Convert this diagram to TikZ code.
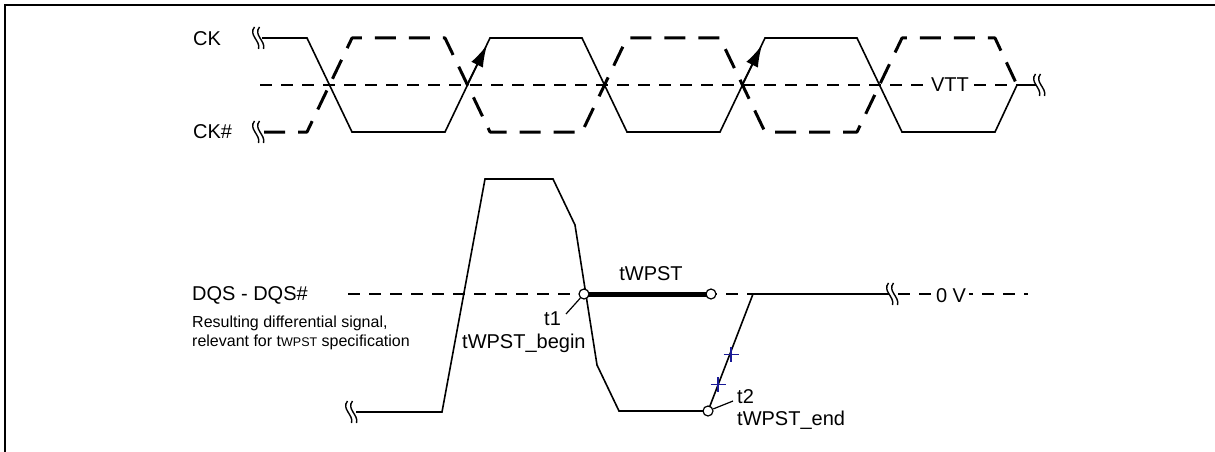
\documentclass[tikz,border=0pt]{standalone}
\usepackage{fontspec}
\setmainfont{Liberation Sans}
\usetikzlibrary{arrows.meta}
\definecolor{xnavy}{RGB}{25,25,150}
\begin{document}
\begin{tikzpicture}[x=1pt,y=-1pt,
  lbl/.style={font=\fontsize{20}{24}\selectfont, inner sep=0pt},
  desc/.style={font=\fontsize{16}{19}\selectfont, inner sep=0pt},
  sig/.style={line width=1.6pt, line join=miter},
  sigb/.style={line width=3pt, dash pattern=on 21pt off 13pt, line join=round},
  refl/.style={line width=1.3pt, dash pattern=on 12pt off 9pt},
  dotc/.style={circle, draw, fill=white, line width=1.2pt, minimum size=10pt, inner sep=0pt},
  bx/.style={draw=xnavy, line width=1.8pt},
  brk/.pic={\draw[line width=1.4pt] (-4.5,-11) .. controls (-11,-3) and (2,3) .. (-0.5,11)
                                 (0.5,-11) .. controls (-6,-3) and (7,3) .. (4.5,11);}
]
\useasboundingbox (0,0) rectangle (1215,452);
% frame
\draw[line width=2pt] (5,452) -- (5,5) -- (1215,5);

% ---------- clocks ----------
\node[lbl, anchor=base west] (ck) at (193,46) {CK};
\node[lbl, anchor=base west] (ckn) at (193,138) {CK\#};

\draw[refl] (260,85) -- (1017,85);
\node[lbl, anchor=base, fill=white, inner xsep=4pt, inner ysep=2pt] (vtt) at (950,92) {VTT};

\draw[sig] (262,38) -- (307,38) -- (352,132) -- (445,132) -- (490,38) -- (582,38)
  -- (627,132) -- (720,132) -- (765,38) -- (857,38) -- (902,132) -- (995,132)
  -- (1017,85) -- (1036,85);
\draw[sigb] (264,132) -- (307,132) -- (352,38) -- (445,38) -- (490,132) -- (582,132)
  -- (627,38) -- (720,38) -- (765,132) -- (857,132) -- (902,38) -- (995,38)
  -- (1017,85);
\coordinate (a1s) at (467,85);
\coordinate (a1e) at (487,45);
\coordinate (a2s) at (742,85);
\coordinate (a2e) at (762,45);
\draw[line width=1.6pt, -{Latex[length=22pt,width=13pt]}] (a1s) -- (a1e);
\draw[line width=1.6pt, -{Latex[length=22pt,width=13pt]}] (a2s) -- (a2e);

\pic at (259,38) {brk};
\pic at (259,132) {brk};
\pic at (1040,85) {brk};

% ---------- DQS ----------
\node[lbl, anchor=base west] (dqs) at (192,300) {DQS - DQS\#};
\node[desc, anchor=base west] (d1) at (192,327) {Resulting differential signal,};
\node[desc, anchor=base west] (d2) at (192,346) {relevant for t{\fontsize{12.5}{14}\selectfont WPST} specification};

\draw[refl] (348,294) -- (889,294);
\draw[refl] (898,294) -- (1028,294);
\node[lbl, anchor=base, fill=white, inner xsep=3pt, inner ysep=2pt] (zv) at (951,302) {0 V};

\draw[sig] (356,412) -- (442,412) -- (485,179) -- (553,179) -- (575,225) -- (597,365)
  -- (619,411) -- (708,411) -- (753,294) -- (889,294);
\pic at (352,412) {brk};
\pic at (893,294) {brk};

\coordinate (t1p) at (584,294);
\coordinate (endp) at (711,294);
\draw[line width=5pt] (t1p) -- (endp);
\node[dotc] (t1c) at (t1p) {};
\node[dotc] (endc) at (endp) {};
\node[dotc] (t2c) at (708,411) {};

\node[lbl, anchor=base] (tw) at (651,280) {tWPST};
\node[lbl, anchor=base west] (t1l) at (544,325) {t1};
\node[lbl, anchor=base west] (t1b) at (462,348) {tWPST\_begin};
\node[lbl, anchor=base west] (t2l) at (737,403) {t2};
\node[lbl, anchor=base west] (t2e) at (737,425) {tWPST\_end};
\coordinate (t1lead) at (566,314);
\coordinate (t2lead) at (733,401);
\draw[line width=1.2pt] (t1lead) -- (t1c);
\draw[line width=1.2pt] (t2lead) -- (t2c);

% blue crosses
\draw[bx] (731,347) -- (731,362) (723.5,354.5) -- (738.5,354.5);
\draw[bx] (718,377) -- (718,392) (710.5,384.5) -- (725.5,384.5);
\end{tikzpicture}
\end{document}
